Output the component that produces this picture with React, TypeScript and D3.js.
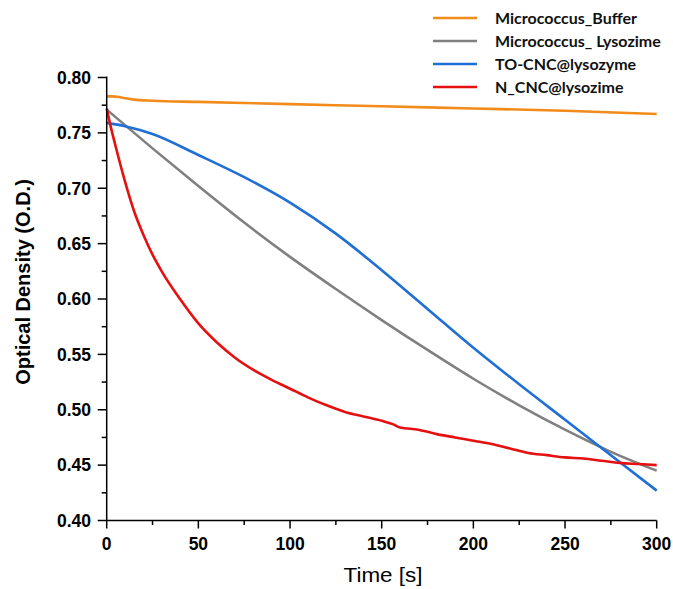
import React from "react";
import * as d3 from "d3";

const bufferT = [0, 3, 8, 15, 25, 50, 100, 150, 200, 250, 300];
const bufferV = [0.783, 0.783, 0.782, 0.780, 0.779, 0.778, 0.776, 0.774, 0.772, 0.770, 0.767];

const lysoT = [0, 25, 50, 75, 100, 125, 150, 175, 200, 225, 250, 275, 300];
const lysoV = [0.771, 0.736, 0.702, 0.669, 0.638, 0.609, 0.581, 0.554, 0.528, 0.504, 0.482, 0.462, 0.445];

const toT = [0, 10, 25, 50, 75, 100, 125, 150, 175, 200, 225, 250, 275, 300];
const toV = [0.759, 0.756, 0.749, 0.730, 0.710, 0.687, 0.659, 0.626, 0.591, 0.556, 0.523, 0.491, 0.459, 0.427];

const nT = [0, 2, 5, 10, 15, 20, 25, 30, 40, 50, 60, 70, 80, 90, 100, 110, 120, 130, 140, 150, 156, 160, 170, 180, 190, 200, 210, 220, 230, 240, 250, 260, 270, 280, 290, 300];
const nV = [0.772, 0.757, 0.737, 0.706, 0.679, 0.658, 0.640, 0.625, 0.600, 0.578, 0.561, 0.547, 0.536, 0.527, 0.519, 0.511, 0.504, 0.498, 0.494, 0.490, 0.487, 0.484, 0.482, 0.478, 0.475, 0.472, 0.469, 0.465, 0.461, 0.459, 0.457, 0.456, 0.454, 0.452, 0.451, 0.450];

const xTicks = [0, 50, 100, 150, 200, 250, 300];
const yTicks = [0.4, 0.45, 0.5, 0.55, 0.6, 0.65, 0.7, 0.75, 0.8];

const seriesNames = ["Micrococcus_Buffer", "Micrococcus_ Lysozime", "TO-CNC@lysozyme", "N_CNC@lysozime"];
const seriesColors = ["#f28b1a", "#808080", "#1f6fd6", "#e51010"];

export default function App() {
  const W = 673, H = 589;
  const x = d3.scaleLinear().domain([0, 300]).range([106.7, 656.7]);
  const y = d3.scaleLinear().domain([0.4, 0.8]).range([520.5, 77.5]);
  const series = [
    [bufferT, bufferV],
    [lysoT, lysoV],
    [toT, toV],
    [nT, nV],
  ];
  const line = d3
    .line<[number, number]>()
    .x((d) => x(d[0]))
    .y((d) => y(d[1]))
    .curve(d3.curveMonotoneX);
  const xMinor = d3.range(25, 300, 50);
  const yMinor = d3.range(0.425, 0.8, 0.05);
  const font = "'Liberation Sans', Arial, sans-serif";
  return (
    <svg width={W} height={H} style={{ position: "absolute", left: 0, top: 0, fontFamily: font }}>
      <rect width={W} height={H} fill="#fff" />
      {series.map(([t, v], i) => (
        <path
          key={i}
          d={line(t.map((tt, j) => [tt, v[j]] as [number, number])) || ""}
          fill="none"
          stroke={seriesColors[i]}
          strokeWidth={2.6}
          strokeLinejoin="round"
        />
      ))}
      <line x1={x(0)} x2={x(0)} y1={y(0.8) - 1} y2={y(0.4)} stroke="#000" strokeWidth={1.5} />
      <line x1={x(0)} x2={x(300)} y1={y(0.4)} y2={y(0.4)} stroke="#000" strokeWidth={1.5} />
      {yTicks.map((t) => (
        <g key={"y" + t}>
          <line x1={x(0) - 9} x2={x(0)} y1={y(t)} y2={y(t)} stroke="#000" strokeWidth={1.5} />
          <text x={91} y={y(t) + 6.3} textAnchor="end" fontSize={17.5} fontWeight="bold" style={{ fontFamily: font }}>
            {t.toFixed(2)}
          </text>
        </g>
      ))}
      {yMinor.map((t) => (
        <line key={"ym" + t} x1={x(0) - 5} x2={x(0)} y1={y(t)} y2={y(t)} stroke="#000" strokeWidth={1.5} />
      ))}
      {xTicks.map((t) => (
        <g key={"x" + t}>
          <line x1={x(t)} x2={x(t)} y1={y(0.4)} y2={y(0.4) + 8} stroke="#000" strokeWidth={1.5} />
          <text x={x(t)} y={550} textAnchor="middle" fontSize={17.5} fontWeight="bold" style={{ fontFamily: font }}>
            {t}
          </text>
        </g>
      ))}
      {xMinor.map((t) => (
        <line key={"xm" + t} x1={x(t)} x2={x(t)} y1={y(0.4)} y2={y(0.4) + 4.5} stroke="#000" strokeWidth={1.5} />
      ))}
      <text transform={`translate(29.5, 282) rotate(-90)`} textAnchor="middle" fontSize={20} fontWeight="bold" style={{ fontFamily: font }}>
        Optical Density (O.D.)
      </text>
      <text transform="translate(383, 582) scale(1.15, 1)" textAnchor="middle" fontSize={19.5} style={{ fontFamily: font }}>
        Time [s]
      </text>
      {seriesNames.map((n, i) => (
        <g key={n}>
          <line x1={433} x2={477} y1={18 + i * 23} y2={18 + i * 23} stroke={seriesColors[i]} strokeWidth={2.6} />
          <text x={495} y={18 + i * 23 + 6} fontSize={16} fontWeight="bold" style={{ fontFamily: "Lato, 'Open Sans', sans-serif" }} fill="#111">
            {n}
          </text>
        </g>
      ))}
    </svg>
  );
}
